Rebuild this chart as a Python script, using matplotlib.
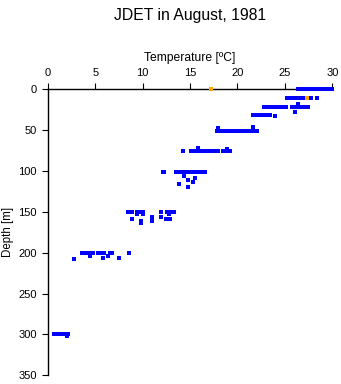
import numpy as np
import matplotlib
matplotlib.use('Agg')
import matplotlib.pyplot as plt

plt.rcParams['font.family'] = ['Liberation Sans', 'DejaVu Sans']

# 温度 [°C] 和 深度 [m]，从图上读出来的
temp_blue = [
    # 0 m
    26.4, 26.6, 26.8, 27.0, 27.2, 27.4, 27.7, 27.9, 28.1, 28.3, 28.5, 28.7, 28.9, 29.1, 29.3, 29.8, 30.0,
    # ~10 m
    25.2, 25.4, 25.6, 26.0, 26.2, 26.4, 26.6, 26.8, 27.0, 27.6, 27.8, 28.4,
    # ~20 m
    22.8, 23.0, 23.2, 23.4, 23.6, 23.8, 24.0, 24.2, 24.4, 24.8, 25.1, 25.8, 26.1, 26.4, 26.6, 26.8, 27.0, 27.2, 27.4,
    26.4, 26.1,
    # ~31 m
    21.6, 21.8, 22.0, 22.2, 22.4, 22.6, 22.8, 23.0, 23.2, 23.4, 24.0,
    # ~50 m
    17.8, 18.0, 18.3, 18.7, 19.0, 19.4, 19.6, 19.8, 20.0, 20.2, 20.4, 20.6, 20.8, 21.0, 21.2, 21.4, 21.6, 21.8, 22.1,
    18.0, 21.6,
    # ~75 m
    14.3, 15.1, 15.3, 15.5, 15.7, 15.9, 16.1, 16.3, 16.6, 16.8, 17.0, 17.2, 17.4, 17.6, 17.8, 18.0, 18.5, 18.7, 18.9, 19.2,
    15.8, 18.9,
    # ~100 m
    12.1, 12.3, 13.5, 13.7, 13.9, 14.1, 14.4, 14.6, 14.8, 15.2, 15.4, 15.6, 15.8, 16.0, 16.3, 16.6,
    14.4, 15.5, 14.8, 15.3, 13.8, 14.8,
    # ~150 m
    8.5, 8.7, 8.9, 9.4, 9.6, 9.8, 10.0, 11.9, 12.6, 12.8, 13.0, 13.3,
    9.4, 10.0, 12.8, 11.0, 11.9, 8.9, 12.5, 12.9, 11.0, 9.8, 9.8,
    # ~200 m
    3.6, 3.8, 4.0, 4.2, 4.4, 4.6, 4.8, 5.3, 5.5, 5.7, 5.9, 6.6, 6.8, 8.6,
    4.5, 6.4, 5.8, 7.5, 2.8,
    # 300 m
    0.7, 0.9, 1.1, 1.3, 1.5, 1.7, 1.9, 2.1, 2.0,
]
depth_blue = (
    [0] * 17
    + [11] * 12
    + [21] * 19 + [18, 28]
    + [31] * 10 + [33]
    + [51] * 19 + [47, 46]
    + [75] * 20 + [72, 73]
    + [101] * 16 + [106, 108, 111, 113, 116, 120]
    + [150] * 12 + [153, 153, 153, 156, 156, 159, 159, 159, 161, 161, 164]
    + [200] * 14 + [204, 204, 207, 207, 208]
    + [300] * 8 + [302]
)
temp_orange = [17.2, 27.3]
depth_orange = [0, 11]

fig = plt.figure(figsize=(3.41, 3.84), dpi=100)
ax = fig.add_axes([0.140, 0.023, 0.8345, 0.744])

ax.plot(temp_blue, depth_blue, 's', color='#0000ff', markersize=2.4, markeredgewidth=0,
        clip_on=False, zorder=3)
ax.plot(temp_orange, depth_orange, 's', color='#ffa500', markersize=2.4, markeredgewidth=0,
        clip_on=False, zorder=4)

ax.set_xlim(0, 30)
ax.set_ylim(350, 0)
ax.set_xticks(np.arange(0, 31, 5))
ax.set_yticks(np.arange(0, 351, 50))
ax.xaxis.tick_top()
ax.xaxis.set_label_position('top')
ax.set_xlabel('Temperature [ºC]', fontsize=8.7, labelpad=5)
ax.set_ylabel('Depth [m]', fontsize=8.3, labelpad=3)
ax.tick_params(labelsize=8, length=4, width=0.8, pad=4)
ax.spines['bottom'].set_visible(False)
ax.spines['right'].set_visible(False)
ax.spines['top'].set_linewidth(1)
ax.spines['left'].set_linewidth(1)

fig.text(0.557, 0.96, 'JDET in August, 1981', ha='center', va='center', fontsize=11.3)

fig.savefig('out.png', dpi=100)
